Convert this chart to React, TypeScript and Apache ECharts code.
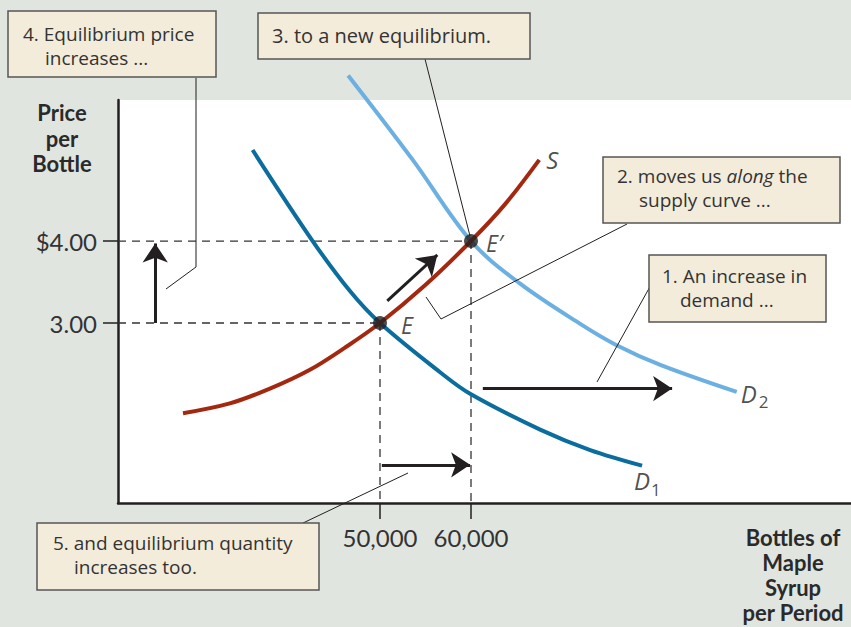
import React, { useEffect, useRef } from "react";
import * as echarts from "echarts";

// ---- data (quantity in bottles, price in $) ----
const priceTicks = [3, 4];
const priceTickLabels = ["3.00", "$4.00"];
const qtyTicks = [50000, 60000];
const qtyTickLabels = ["50,000", "60,000"];

const demand1Q = [36000, 42600, 46700, 50000, 56600, 60000, 67600, 73100, 78800];
const demand1P = [5.11, 4.0, 3.39, 3.0, 2.4, 2.13, 1.7, 1.45, 1.26];
const demand2Q = [46500, 53600, 60000, 65400, 72000, 76000, 80800, 89200];
const demand2P = [6.02, 4.99, 4.0, 3.48, 2.99, 2.73, 2.49, 2.16];
const supplyQ = [28350, 33500, 37900, 42300, 46150, 50000, 54950, 60000, 63750, 67500];
const supplyP = [1.9, 2.02, 2.2, 2.43, 2.7, 3.0, 3.46, 4.0, 4.45, 4.99];

const equilibriumQ = [50000, 60000];
const equilibriumP = [3, 4];
const equilibriumNames = ["E", "E\u2032"];

const priceArrowQ = [25300, 25300];
const priceArrowP = [3.0, 3.97];
const alongArrowQ = [50800, 56300];
const alongArrowP = [3.27, 3.83];
const shiftArrowQ = [61300, 82100];
const shiftArrowP = [2.2, 2.2];
const qtyArrowQ = [50200, 59900];
const qtyArrowP = [1.27, 1.27];

// axis extents
const Q_MIN = 21209;
const Q_MAX = 101758;
const P_MIN = 0.805;
const P_MAX = 5.72;

const FONT = "'Open Sans', Lato, sans-serif";
const TICK_FONT = "Lato, 'Open Sans', sans-serif";
const INK = "#231f20";
const TEXT = "#333333";
const BOX_FILL = "#f3ecdb";
const BOX_STROKE = "#555555";

const zip = (a: number[], b: number[]) => a.map((v, i) => [v, b[i]]);

function box(x: number, y: number, w: number, h: number) {
  return {
    type: "rect",
    shape: { x, y, width: w, height: h },
    style: { fill: BOX_FILL, stroke: BOX_STROKE, lineWidth: 1.5 },
    z: 10,
  };
}
function txt(x: number, y: number, text: string, extra: any = {}) {
  return {
    type: "text",
    x,
    y,
    z: 11,
    style: {
      text,
      fontFamily: FONT,
      fontSize: 19,
      fill: TEXT,
      align: "left",
      textAlign: "left",
      verticalAlign: "middle",
      textVerticalAlign: "middle",
      ...extra,
    },
  };
}
function leader(points: number[][]) {
  return {
    type: "polyline",
    shape: { points },
    style: { stroke: INK, lineWidth: 1, fill: "none" },
    z: 9,
  };
}
function boldTxt(x: number, y: number, text: string) {
  return txt(x, y, text, {
    fontFamily: TICK_FONT,
    fontWeight: "bold",
    fontSize: 22,
    align: "center",
    textAlign: "center",
    fill: "#2a2a2a",
  });
}

function dashed(data: number[][]) {
  return {
    type: "line",
    data,
    symbol: "none",
    silent: true,
    z: 1,
    lineStyle: { color: "#333", width: 1.3, type: [8, 6] },
  };
}

function arrow(q: number[], p: number[]) {
  return {
    type: "lines",
    coordinateSystem: "cartesian2d",
    z: 6,
    symbol: ["none", "arrow"],
    symbolSize: 19,
    lineStyle: { color: INK, width: 3, opacity: 1 },
    data: [{ coords: zip(q, p) }],
  };
}

function curve(q: number[], p: number[], color: string) {
  return {
    type: "line",
    data: zip(q, p),
    smooth: 0.35,
    symbol: "none",
    clip: false,
    z: 3,
    lineStyle: { color, width: 4, cap: "butt" },
  };
}

const italic = { fontFamily: FONT, fontStyle: "italic", fontSize: 23, color: INK };

function curveLabel(
  q: number[],
  p: number[],
  main: string,
  mainOffset: number[],
  sub?: string,
  subOffset?: number[]
) {
  const last = q.length - 1;
  const pt = [q[last], p[last]];
  const data: any[] = [
    {
      value: pt,
      label: { formatter: main, offset: mainOffset, ...italic, fontSize: 24 },
    },
  ];
  if (sub) {
    data.push({
      value: pt,
      label: {
        formatter: sub,
        offset: subOffset,
        fontFamily: FONT,
        fontSize: 17,
        color: INK,
      },
    });
  }
  return {
    type: "scatter",
    data,
    symbolSize: 0,
    silent: true,
    z: 7,
    clip: false,
    label: { show: true, position: "right", distance: 0 },
  };
}

export default function App() {
  const ref = useRef<HTMLDivElement>(null);
  useEffect(() => {
    document.body.style.margin = "0";
    const chart = echarts.init(ref.current!, null, { renderer: "svg" });
    const option: any = {
      animation: false,
      backgroundColor: "#e1e5e0",
      grid: {
        left: 118,
        right: 0,
        top: 100,
        bottom: 124,
        show: true,
        backgroundColor: "#ffffff",
        borderWidth: 0,
      },
      xAxis: {
        type: "value",
        min: Q_MIN,
        max: Q_MAX,
        splitLine: { show: false },
        axisLine: { show: true, onZero: false, lineStyle: { color: INK, width: 2.5 } },
        axisTick: {
          show: true,
          customValues: qtyTicks,
          length: 16,
          lineStyle: { color: INK, width: 1.5 },
        },
        axisLabel: {
          show: true,
          customValues: qtyTicks,
          margin: 22,
          fontFamily: TICK_FONT,
          fontSize: 24,
          color: TEXT,
          formatter: (v: number) => qtyTickLabels[qtyTicks.indexOf(v)] ?? "",
        },
      },
      yAxis: {
        type: "value",
        min: P_MIN,
        max: P_MAX,
        splitLine: { show: false },
        axisLine: { show: true, onZero: false, lineStyle: { color: INK, width: 2.5 } },
        axisTick: {
          show: true,
          customValues: priceTicks,
          length: 15,
          lineStyle: { color: INK, width: 1.5 },
        },
        axisLabel: {
          show: true,
          customValues: priceTicks,
          margin: 21,
          fontFamily: TICK_FONT,
          fontSize: 24,
          color: TEXT,
          formatter: (v: number) => priceTickLabels[priceTicks.indexOf(v)] ?? "",
        },
      },
      series: [
        dashed([[Q_MIN, equilibriumP[1]], [equilibriumQ[1], equilibriumP[1]]]),
        dashed([[Q_MIN, equilibriumP[0]], [equilibriumQ[0], equilibriumP[0]]]),
        dashed([[equilibriumQ[0], equilibriumP[0]], [equilibriumQ[0], P_MIN]]),
        dashed([[equilibriumQ[1], equilibriumP[1]], [equilibriumQ[1], P_MIN]]),
        curve(demand1Q, demand1P, "#0b6d9e"),
        curve(demand2Q, demand2P, "#6cb0e2"),
        curve(supplyQ, supplyP, "#a4280f"),
        arrow(priceArrowQ, priceArrowP),
        arrow(alongArrowQ, alongArrowP),
        arrow(shiftArrowQ, shiftArrowP),
        arrow(qtyArrowQ, qtyArrowP),
        {
          type: "scatter",
          z: 8,
          symbolSize: 14,
          itemStyle: { color: INK },
          data: [
            {
              value: [equilibriumQ[0], equilibriumP[0]],
              name: equilibriumNames[0],
              label: { distance: 14, offset: [0, 2] },
            },
            {
              value: [equilibriumQ[1], equilibriumP[1]],
              name: equilibriumNames[1],
              label: { distance: 8, offset: [0, 2] },
            },
          ],
          label: {
            show: true,
            position: "right",
            formatter: (d: any) => d.name,
            ...italic,
          },
        },
        curveLabel(supplyQ, supplyP, "S", [7, 0]),
        curveLabel(demand2Q, demand2P, "D", [4, 2], "2", [22, 10]),
        curveLabel(demand1Q, demand1P, "D", [-8, 15], "1", [9, 24]),
      ],
      graphic: [
        // axis titles
        boldTxt(62, 112, "Price"),
        boldTxt(62, 138, "per"),
        boldTxt(62, 163, "Bottle"),
        boldTxt(793, 537, "Bottles of"),
        boldTxt(793, 562, "Maple"),
        boldTxt(793, 587, "Syrup"),
        boldTxt(793, 612, "per Period"),
        // leader lines
        leader([[196, 78], [196, 267], [166, 289]]),
        leader([[425, 59], [470, 236]]),
        leader([[627, 224], [441, 319], [426, 297]]),
        leader([[652, 283], [597, 382]]),
        leader([[303, 523], [408, 473]]),
        // boxes
        box(8, 11, 208, 66),
        txt(23, 34, "4. Equilibrium price"),
        txt(45, 58, "increases ..."),
        box(258, 13, 272, 46),
        txt(272, 35, "3. to a new equilibrium.", { fontSize: 20 }),
        box(603, 157, 237, 66),
        txt(617, 176, "2. moves us {i|along} the", {
          rich: { i: { fontStyle: "italic", fontFamily: FONT, fontSize: 19, fill: TEXT, color: TEXT } },
        }),
        txt(639, 200, "supply curve ..."),
        box(649, 255, 177, 67),
        txt(662, 276, "1. An increase in"),
        txt(680, 300, "demand ..."),
        box(37, 523, 282, 67),
        txt(53, 543, "5. and equilibrium quantity"),
        txt(74, 567, "increases too."),
      ],
    };
    chart.setOption(option);
    return () => chart.dispose();
  }, []);
  return <div ref={ref} style={{ width: 851, height: 627 }} />;
}
